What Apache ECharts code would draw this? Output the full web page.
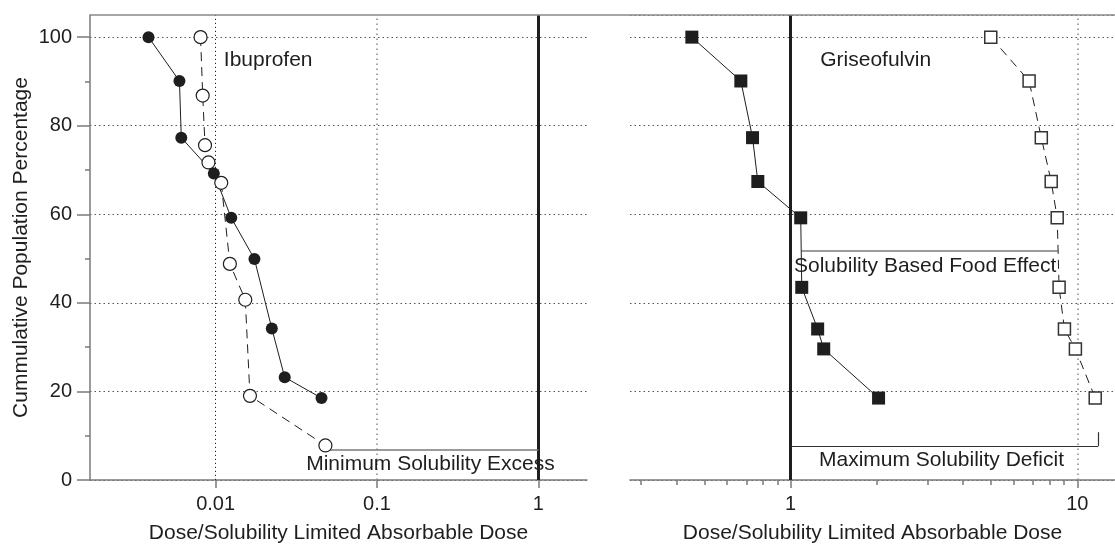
<!DOCTYPE html>
<html><head><meta charset="utf-8">
<script src="https://cdn.jsdelivr.net/npm/echarts@6/dist/echarts.min.js"></script>
<style>html,body{margin:0;padding:0;background:#fff}#c{width:1115px;height:549px}</style>
</head><body><div id="c"></div>
<script>
// ---- data ----
const ibuprofenFilledX = [0.00384, 0.00597, 0.00613, 0.00975, 0.0125, 0.0174, 0.0223, 0.0268, 0.0453];
const ibuprofenFilledY = [100, 90.1, 77.3, 69.2, 59.2, 49.9, 34.2, 23.2, 18.5];
const ibuprofenOpenX = [0.00807, 0.00832, 0.0086, 0.00903, 0.01084, 0.01226, 0.01527, 0.01633, 0.0479];
const ibuprofenOpenY = [100, 86.8, 75.6, 71.7, 67.1, 48.8, 40.7, 19.0, 7.8];
const griseoFilledX = [0.452, 0.670, 0.736, 0.768, 1.084, 1.093, 1.242, 1.304, 2.026];
const griseoFilledY = [100, 90.1, 77.3, 67.4, 59.2, 43.5, 34.1, 29.6, 18.5];
const griseoOpenX = [4.99, 6.79, 7.49, 8.11, 8.51, 8.64, 9.02, 9.85, 11.55];
const griseoOpenY = [100, 90.1, 77.3, 67.4, 59.2, 43.5, 34.1, 29.6, 18.5];

const yTicks = [0, 20, 40, 60, 80, 100];
const yMinorTicks = [10, 30, 50, 70, 90];
const leftXTicks = [0.01, 0.1, 1];
const rightXTicks = [1, 10];
const rightXMinorTicks = [0.3, 0.4, 0.5, 0.6, 0.7, 0.8, 0.9, 2, 3, 4, 5, 6, 7, 8, 9];

const yTitle = 'Cummulative Population Percentage';
const xTitle = 'Dose/Solubility Limited Absorbable Dose';

// annotation texts (data coordinates)
const annotations = [
  {grid: 0, x: 0.01124, y: 94.9, text: 'Ibuprofen'},
  {grid: 1, x: 1.268, y: 94.9, text: 'Griseofulvin'},
  {grid: 1, x: 1.027, y: 48.2, text: 'Solubility Based Food Effect'},
  {grid: 0, x: 0.0364, y: 3.6, text: 'Minimum Solubility Excess'},
  {grid: 1, x: 1.255, y: 4.5, text: 'Maximum Solubility Deficit'}
];
// brackets (data coordinates)
const minExcessLine = [[0.05, 6.8], [1, 6.8]];
const foodEffectLine = [[1.092, 51.8], [8.55, 51.8]];
const maxDeficitLine = [[1, 7.7], [11.84, 7.7], [11.84, 10.8]];

// ---- styling / layout ----
const FONT = '"Liberation Sans", Arial, Helvetica, sans-serif';
const ink = '#1e1e1e';
const grey = '#7a7a7a';
const leftMin = 1 / 600, leftMax = 2;
const rightMin = 0.275, rightMax = 13.54;
const yMax = 105;

const zip = (xs, ys) => xs.map((x, i) => [x, ys[i]]);
const gridDot = {color: '#555', width: 1, type: [1.5, 3]};

const chart = echarts.init(document.getElementById('c'), null, {renderer: 'canvas'});

function xAxisBase(grid, min, max) {
  return {
    type: 'log', logBase: 10, gridIndex: grid, min: min, max: max, position: 'bottom',
    axisLine: {show: true, onZero: false, lineStyle: {color: grey, width: 1.5}},
    splitLine: {show: false}, minorTick: {show: false}, minorSplitLine: {show: false}
  };
}
const labelStyle = {fontSize: 20, color: ink, fontFamily: FONT};
const nameStyle = {fontSize: 21, color: ink, fontFamily: FONT};

const option = {
  animation: false,
  backgroundColor: '#fff',
  grid: [
    {left: 90, right: 528, top: 15, bottom: 66},
    {left: 630, right: 0, top: 15, bottom: 66}
  ],
  xAxis: [
    Object.assign(xAxisBase(0, leftMin, leftMax), {
      axisTick: {show: true, inside: false, customValues: leftXTicks, length: 8, lineStyle: {color: grey, width: 1.5}},
      axisLabel: Object.assign({customValues: leftXTicks, margin: 14, formatter: v => String(v)}, labelStyle),
      name: xTitle, nameLocation: 'middle', nameGap: 43, nameTextStyle: nameStyle
    }),
    Object.assign(xAxisBase(1, rightMin, rightMax), {
      axisTick: {show: true, inside: false, customValues: rightXTicks, length: 8, lineStyle: {color: grey, width: 1.5}},
      axisLabel: Object.assign({customValues: rightXTicks, margin: 14, formatter: v => String(v)}, labelStyle),
      name: xTitle, nameLocation: 'middle', nameGap: 43, nameTextStyle: nameStyle
    }),
    Object.assign(xAxisBase(1, rightMin, rightMax), {
      axisLine: {show: false, onZero: false},
      axisTick: {show: true, inside: false, customValues: rightXMinorTicks, length: 5, lineStyle: {color: grey, width: 1.5}},
      axisLabel: {show: false}
    })
  ],
  yAxis: [
    {
      type: 'value', gridIndex: 0, min: 0, max: yMax, interval: 20, position: 'left',
      axisLine: {show: true, onZero: false, lineStyle: {color: grey, width: 1.5}},
      axisTick: {show: true, customValues: yTicks, length: 13, lineStyle: {color: grey, width: 1.5}},
      axisLabel: Object.assign({customValues: yTicks, margin: 18}, labelStyle),
      splitLine: {show: true, lineStyle: gridDot},
      name: yTitle, nameLocation: 'middle', nameGap: 58, nameTextStyle: nameStyle
    },
    {
      type: 'value', gridIndex: 1, min: 0, max: yMax, interval: 20, position: 'left',
      axisLine: {show: false}, axisTick: {show: false}, axisLabel: {show: false},
      splitLine: {show: true, lineStyle: gridDot}
    },
    {
      type: 'value', gridIndex: 0, min: 0, max: yMax, interval: 20, position: 'left',
      axisLine: {show: false, onZero: false},
      axisTick: {show: true, inside: false, customValues: yMinorTicks, length: 5, lineStyle: {color: grey, width: 1.5}},
      axisLabel: {show: false}, splitLine: {show: false}
    }
  ],
  series: [
    {
      name: 'Ibuprofen filled', type: 'line', xAxisIndex: 0, yAxisIndex: 0, z: 3,
      data: zip(ibuprofenFilledX, ibuprofenFilledY),
      symbol: 'circle', symbolSize: 12, showAllSymbol: true,
      itemStyle: {color: ink}, lineStyle: {color: ink, width: 1},
      markLine: {
        silent: true, symbol: 'none', z: 1, label: {show: false}, animation: false,
        data: [
          {xAxis: 0.01, lineStyle: {color: '#222', width: 1, type: [1.2, 2.8]}},
          {xAxis: 0.1, lineStyle: {color: '#888', width: 1.5, type: [1.5, 3.5]}},
          {xAxis: 1, lineStyle: {color: ink, width: 3, type: 'solid'}},
          [{coord: minExcessLine[0]}, {coord: minExcessLine[1], lineStyle: {color: grey, width: 1.5, type: 'solid'}}]
        ]
      }
    },
    {
      name: 'Ibuprofen open', type: 'line', xAxisIndex: 0, yAxisIndex: 0, z: 4,
      data: zip(ibuprofenOpenX, ibuprofenOpenY),
      symbol: 'circle', symbolSize: 13, showAllSymbol: true,
      itemStyle: {color: '#fff', borderColor: ink, borderWidth: 1.2},
      lineStyle: {color: ink, width: 1, type: [9, 6]}
    },
    {
      name: 'Griseofulvin filled', type: 'line', xAxisIndex: 1, yAxisIndex: 1, z: 3,
      data: zip(griseoFilledX, griseoFilledY),
      symbol: 'rect', symbolSize: 13, showAllSymbol: true,
      itemStyle: {color: ink}, lineStyle: {color: ink, width: 1},
      markLine: {
        silent: true, symbol: 'none', z: 1, label: {show: false}, animation: false,
        data: [
          {xAxis: 10, lineStyle: {color: '#888', width: 1.5, type: [1.5, 3.5]}},
          {xAxis: 1, lineStyle: {color: ink, width: 3, type: 'solid'}},
          [{coord: foodEffectLine[0]}, {coord: foodEffectLine[1], lineStyle: {color: grey, width: 1.5, type: 'solid'}}],
          [{coord: maxDeficitLine[0]}, {coord: maxDeficitLine[1], lineStyle: {color: '#333', width: 1.2, type: 'solid'}}],
          [{coord: maxDeficitLine[1]}, {coord: maxDeficitLine[2], lineStyle: {color: '#333', width: 1.2, type: 'solid'}}]
        ]
      }
    },
    {
      name: 'Griseofulvin open', type: 'line', xAxisIndex: 1, yAxisIndex: 1, z: 4,
      data: zip(griseoOpenX, griseoOpenY),
      symbol: 'rect', symbolSize: 12, showAllSymbol: true,
      itemStyle: {color: '#fff', borderColor: '#333', borderWidth: 1.5},
      lineStyle: {color: ink, width: 1, type: [9, 6]}
    }
  ]
};
chart.setOption(option);

// top border and annotation texts, placed through the axes' own scales
const pTL = chart.convertToPixel({xAxisIndex: 0, yAxisIndex: 0}, [leftMin, yMax]);
const pTR = chart.convertToPixel({xAxisIndex: 1, yAxisIndex: 1}, [rightMax, yMax]);
const graphics = [{
  type: 'line', z: 10, silent: true,
  shape: {x1: pTL[0], y1: pTL[1], x2: pTR[0], y2: pTR[1]},
  style: {stroke: '#888', lineWidth: 1.5}
}];
annotations.forEach(a => {
  const p = chart.convertToPixel({xAxisIndex: a.grid, yAxisIndex: a.grid}, [a.x, a.y]);
  graphics.push({
    type: 'text', z: 20, silent: true, x: p[0], y: p[1],
    style: {text: a.text, fill: ink, font: '21px ' + FONT, align: 'left', verticalAlign: 'middle'}
  });
});
chart.setOption({graphic: graphics});
</script>
</body></html>
